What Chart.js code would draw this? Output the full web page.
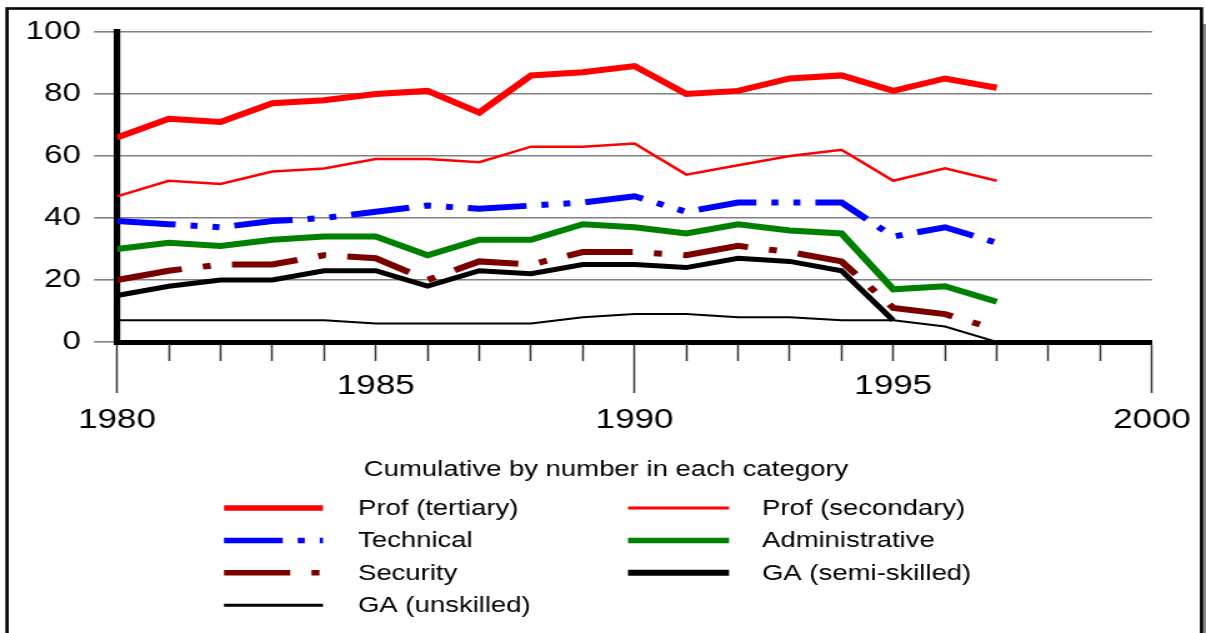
<!DOCTYPE html>
<html>
<head>
<meta charset="utf-8">
<script src="https://cdn.jsdelivr.net/npm/chart.js@4/dist/chart.umd.min.js"></script>
<style>
  html, body { margin: 0; padding: 0; background: #fff; }
  #c { display: block; width: 1206px; height: 633px; }
</style>
</head>
<body>
<canvas id="c" width="965" height="633" style="width:1206px;height:633px;"></canvas>
<script>
// ---- data ----
const years = [1980,1981,1982,1983,1984,1985,1986,1987,1988,1989,1990,1991,1992,1993,1994,1995,1996,1997];
const profTertiary  = [66,72,71,77,78,80,81,74,86,87,89,80,81,85,86,81,85,82];
const profSecondary = [47,52,51,55,56,59,59,58,63,63,64,54,57,60,62,52,56,52];
const technical     = [39,38,37,39,40,42,44,43,44,45,47,42,45,45,45,34,37,32];
const administrative= [30,32,31,33,34,34,28,33,33,38,37,35,38,36,35,17,18,13];
const security      = [20,23,25,25,28,27,20,26,25,29,29,28,31,29,26,11,9,4];
const gaSemiSkilled = [15,18,20,20,23,23,18,23,22,25,25,24,27,26,23,7,null,null];
const gaUnskilled   = [7,7,7,7,7,6,6,6,6,8,9,9,8,8,7,7,5,0];
const seriesNames = ['Prof (tertiary)','Prof (secondary)','Technical','Administrative','Security','GA (semi-skilled)','GA (unskilled)'];
const yTickValues = [0,20,40,60,80,100];
const xTicksUpper = [1985,1995];
const xTicksLower = [1980,1990,2000];
const legendTitle = 'Cumulative by number in each category';

// horizontal stretch of the reference picture
const S = 1206 / 965;
const X = v => v / S;
const FONT = '"Liberation Sans", Arial, sans-serif';

const framePlugin = {
  id: 'frame',
  beforeDraw(chart) {
    const ctx = chart.ctx;
    ctx.save();
    ctx.fillStyle = '#fff';
    ctx.fillRect(0, 0, chart.width, chart.height);
    ctx.fillStyle = '#8a8a8a';
    ctx.fillRect(X(1203), 24, X(1206) - X(1203) + 1, chart.height);
    ctx.strokeStyle = '#000';
    ctx.lineWidth = 2.6;
    ctx.strokeRect(X(7), 8.5, X(1201.5) - X(7), 700);
    ctx.restore();
  },
  afterDraw(chart) {
    const ctx = chart.ctx;
    ctx.save();
    ctx.fillStyle = '#000';
    ctx.font = '22px ' + FONT;
    ctx.textBaseline = 'middle';
    ctx.textAlign = 'center';
    ctx.fillText(legendTitle, X(606), 470);
    ctx.textAlign = 'left';
    chart.data.datasets.forEach((ds, i) => {
      const col = i % 2, row = Math.floor(i / 2);
      const y = 508 + row * 32.4;
      const x1 = col ? X(628) : X(224);
      const x2 = col ? X(729) : X(323);
      const tx = col ? X(762) : X(358);
      ctx.save();
      ctx.strokeStyle = ds.borderColor;
      ctx.lineWidth = ds.legendWidth;
      ctx.setLineDash(ds.borderDash || []);
      ctx.lineCap = 'butt';
      ctx.beginPath();
      ctx.moveTo(x1, y);
      ctx.lineTo(x2, y);
      ctx.stroke();
      ctx.restore();
      ctx.fillText(ds.label, tx, y + 1);
    });
    ctx.restore();
  }
};

function mk(label, data, color, width, dash, legendWidth) {
  return {
    label, data, borderColor: color, backgroundColor: color,
    borderWidth: width, borderDash: dash, legendWidth,
    pointRadius: 0, pointHoverRadius: 0, tension: 0, fill: false,
    borderCapStyle: 'butt', borderJoinStyle: 'miter', spanGaps: false
  };
}

new Chart(document.getElementById('c'), {
  type: 'line',
  data: {
    labels: years,
    datasets: [
      mk(seriesNames[0], profTertiary, '#ff0000', 6, [], 5.5),
      mk(seriesNames[1], profSecondary, '#ff0000', 2.5, [], 3),
      mk(seriesNames[2], technical, '#0000ff', 6, [47, 12, 5.6, 12, 5.6, 12], 5.5),
      mk(seriesNames[3], administrative, '#008000', 6, [], 5.5),
      mk(seriesNames[4], security, '#7a0000', 6, [53, 17, 6.4, 17], 5.5),
      mk(seriesNames[5], gaSemiSkilled, '#000000', 5, [], 6),
      mk(seriesNames[6], gaUnskilled, '#000000', 2, [], 3)
    ]
  },
  options: {
    responsive: false,
    animation: false,
    devicePixelRatio: 1,
    layout: { padding: { top: 32, left: 0, right: 965 - X(1152), bottom: 633 - 342 - 100 } },
    plugins: { legend: { display: false }, tooltip: { enabled: false }, title: { display: false } },
    scales: {
      x: {
        type: 'linear',
        min: 1980, max: 2000,
        afterFit(scale) { scale.height = 100; },
        grid: {
          drawOnChartArea: false,
          drawTicks: true,
          tickLength: 51,
          tickColor: '#333',
          tickWidth: 1.5,
          tickBorderDash: (c) => (c.tick && c.tick.value % 10 === 0) ? [] : [16, 80]
        },
        border: { display: true, color: '#000', width: 5 },
        ticks: {
          stepSize: 1,
          autoSkip: false,
          maxRotation: 0,
          minRotation: 0,
          padding: -23.3,
          color: '#000',
          font: { family: FONT, size: 28, lineHeight: 34 / 28 },
          callback: (v) => {
            if (xTicksLower.includes(v)) return ['', String(v)];
            if (xTicksUpper.includes(v)) return String(v);
            return '';
          }
        }
      },
      y: {
        min: 0, max: 100,
        afterFit(scale) { scale.width = X(117); },
        afterBuildTicks(scale) { scale.ticks = yTickValues.map(v => ({ value: v })); },
        grid: {
          color: '#808080',
          lineWidth: 1.6,
          tickLength: X(117) - X(94),
          tickColor: '#808080',
          tickWidth: 1.6
        },
        border: { display: true, color: '#000', width: 5.2 },
        ticks: {
          padding: X(94) - X(81),
          color: '#000',
          font: { family: FONT, size: 26.5 }
        }
      }
    }
  },
  plugins: [framePlugin]
});
</script>
</body>
</html>
